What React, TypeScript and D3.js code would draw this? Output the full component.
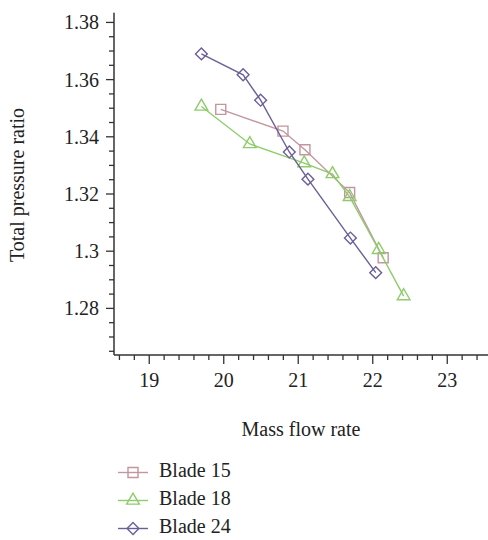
import React from "react";
import * as d3 from "d3";

const seriesNames = ["Blade 15", "Blade 18", "Blade 24"];
const blade15X = [19.96, 20.795, 21.09, 21.69, 22.14];
const blade15Y = [1.3496, 1.342, 1.3355, 1.3205, 1.2977];
const blade18X = [19.7, 20.35, 21.08, 21.46, 21.69, 22.08, 22.415];
const blade18Y = [1.3506, 1.3375, 1.3308, 1.327, 1.319, 1.3005, 1.2843];
const blade24X = [19.7, 20.26, 20.495, 20.88, 21.13, 21.7, 22.04];
const blade24Y = [1.369, 1.3617, 1.3528, 1.3347, 1.3252, 1.3046, 1.2925];
const xMajorTicks = [19, 20, 21, 22, 23];
const yMajorTicks = [1.28, 1.3, 1.32, 1.34, 1.36, 1.38];
const xTitle = "Mass flow rate";
const yTitle = "Total pressure ratio";

const colors = ["#c3959f", "#8dcc6b", "#6b5f98"];
const symbols = [d3.symbolSquare, d3.symbolTriangle, d3.symbolSquare];
const symbolSizes = [100, 70, 70];
const symbolRot = [0, 0, 45];

const FONT = "'Liberation Serif', 'Times New Roman', serif";

export default function App() {
  const left = 114, right = 488, top = 12.7, bottom = 355;
  const x = d3.scaleLinear().domain([18.527, 23.547]).range([left, right]);
  const y = d3.scaleLinear().domain([1.2637, 1.3834]).range([bottom, top]);

  const series = [
    { name: seriesNames[0], xs: blade15X, ys: blade15Y },
    { name: seriesNames[1], xs: blade18X, ys: blade18Y },
    { name: seriesNames[2], xs: blade24X, ys: blade24Y },
  ];

  const xMinor = d3.range(18.6, 23.5, 0.2).filter((v) => !xMajorTicks.some((m) => Math.abs(m - v) < 1e-6));
  const yMinor = d3.range(1.265, 1.383, 0.005).filter((v) => !yMajorTicks.some((m) => Math.abs(m - v) < 1e-6));

  const line = d3.line<[number, number]>().x((d) => x(d[0])).y((d) => y(d[1]));
  const axisColor = "#333";

  return (
    <svg width={488} height={540} style={{ position: "absolute", left: 0, top: 0, background: "#fff" }}>
      {/* axes */}
      <line x1={left} x2={left} y1={top} y2={bottom} stroke={axisColor} strokeWidth={1.5} />
      <line x1={left} x2={right} y1={bottom} y2={bottom} stroke={axisColor} strokeWidth={1.5} />
      {yMajorTicks.map((t) => (
        <g key={"ym" + t}>
          <line x1={left - 8} x2={left} y1={y(t)} y2={y(t)} stroke={axisColor} strokeWidth={1.3} />
          <text x={99} y={y(t)} dy="0.35em" textAnchor="end" fontFamily={FONT} fontSize={20} fill="#222">
            {String(+t.toFixed(2))}
          </text>
        </g>
      ))}
      {yMinor.map((t) => (
        <line key={"yn" + t} x1={left - 5} x2={left} y1={y(t)} y2={y(t)} stroke={axisColor} strokeWidth={1.3} />
      ))}
      {xMajorTicks.map((t) => (
        <g key={"xm" + t}>
          <line x1={x(t)} x2={x(t)} y1={bottom} y2={bottom + 9} stroke={axisColor} strokeWidth={1.3} />
          <text x={x(t)} y={387} textAnchor="middle" fontFamily={FONT} fontSize={20} fill="#222">
            {t}
          </text>
        </g>
      ))}
      {xMinor.map((t) => (
        <line key={"xn" + t} x1={x(t)} x2={x(t)} y1={bottom} y2={bottom + 5} stroke={axisColor} strokeWidth={1.3} />
      ))}
      <text x={(left + right) / 2} y={436} textAnchor="middle" fontFamily={FONT} fontSize={20} fill="#222">
        {xTitle}
      </text>
      <text
        transform={`translate(24,185) rotate(-90)`}
        textAnchor="middle"
        fontFamily={FONT}
        fontSize={20}
        fill="#222"
      >
        {yTitle}
      </text>

      {/* series */}
      {series.map((s, i) => {
        const pts: [number, number][] = s.xs.map((v, j) => [v, s.ys[j]]);
        const sym = d3.symbol().type(symbols[i]).size(symbolSizes[i]);
        return (
          <g key={s.name}>
            <path d={line(pts) || ""} fill="none" stroke={colors[i]} strokeWidth={1.4} />
            {pts.map((p, j) => (
              <path
                key={j}
                d={sym() || ""}
                transform={`translate(${x(p[0])},${y(p[1])}) rotate(${symbolRot[i]})`}
                fill="none"
                stroke={colors[i]}
                strokeWidth={1.4}
              />
            ))}
          </g>
        );
      })}

      {/* legend */}
      {series.map((s, i) => {
        const ly = 472.5 + i * 28;
        const sym = d3.symbol().type(symbols[i]).size(symbolSizes[i]);
        return (
          <g key={"lg" + s.name}>
            <line x1={118} x2={148} y1={ly} y2={ly} stroke={colors[i]} strokeWidth={1.4} />
            <path
              d={sym() || ""}
              transform={`translate(133,${ly}) rotate(${symbolRot[i]})`}
              fill="none"
              stroke={colors[i]}
              strokeWidth={1.4}
            />
            <text x={159} y={ly + 4.5} fontFamily={FONT} fontSize={20} fill="#222">
              {s.name}
            </text>
          </g>
        );
      })}
    </svg>
  );
}
